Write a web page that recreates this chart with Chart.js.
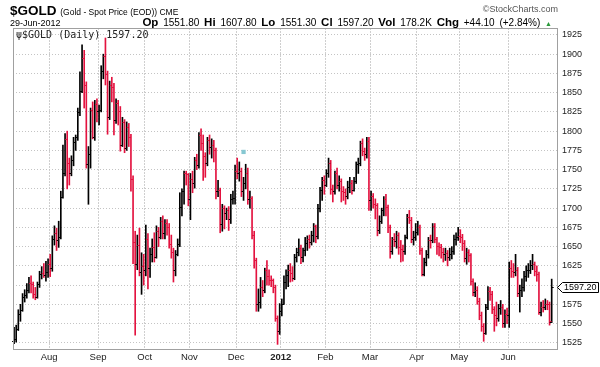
<!DOCTYPE html>
<html>
<head>
<meta charset="utf-8">
<script src="https://cdn.jsdelivr.net/npm/chart.js@4.4.0/dist/chart.umd.min.js"></script>
<style>
  body { margin: 0; background: #fff; width: 600px; height: 367px; overflow: hidden; position: relative; font-family: "Liberation Sans", Arial, sans-serif; }
  #wrap { position: absolute; left: 0; top: 0; width: 600px; height: 367px; }
  .t { position: absolute; white-space: nowrap; color: #000; line-height: 1; }
  .b { font-weight: bold; font-size: 11.5px; }
</style>
</head>
<body>
<div id="wrap"><canvas id="gold" width="600" height="367"></canvas></div>

<div class="t" style="left:10px;top:4px;font-size:13.5px;font-weight:bold">$GOLD <span style="font-weight:normal;font-size:8.5px">(Gold - Spot Price (EOD)) CME</span></div>
<div class="t" style="left:10px;top:19px;font-size:9px">29-Jun-2012</div>
<div class="t" style="right:48px;top:17px;font-size:10px;word-spacing:2px">
  <span class="b">Op</span> 1551.80 <span class="b">Hi</span> 1607.80 <span class="b">Lo</span> 1551.30
  <span class="b">Cl</span> 1597.20 <span class="b">Vol</span> 178.2K <span class="b">Chg</span> +44.10 (+2.84%)
  <span style="color:#2a9a3a;font-size:7px">&#9650;</span>
</div>
<div class="t" style="right:42px;top:5px;font-size:9px;color:#555">&copy;StockCharts.com</div>
<div class="t" style="left:16px;top:30px;font-size:10px;font-family:'DejaVu Sans Mono',monospace;color:#222">&#968;$GOLD (Daily) 1597.20</div>

<script>
// Gold spot, daily OHLC, 7-Jul-2011 .. 29-Jun-2012 (one line per month)
const opens = [
  1527,1530,1543,1562,1568,1585,1587,1594,1603,1601,1588,1585,1601,1614,1616,1613,1617,
  1628,1622,1660,1668,1658,1663,1715,1745,1790,1758,1746,1762,1786,1792,1825,1852,1895,1860,1757,1770,1828,1792,1835,
  1826,1828,1878,1897,1874,1818,1860,1857,1815,1836,1826,1782,1812,1778,1806,1792,1738,1656,1628,1652,1617,1625,
  1620,1660,1622,1640,1650,1636,1670,1663,1683,1668,1681,1676,1654,1643,1620,1641,1654,1702,1722,1745,1744,
  1712,1738,1732,1763,1756,1795,1785,1768,1758,1788,1780,1782,1776,1722,1724,1679,1700,1694,1697,1686,1712,1713,
  1748,1745,1748,1722,1732,1745,1712,1713,1665,1632,1575,1578,1598,1594,1619,1612,1607,1606,1598,1557,1540,
  1566,1576,1604,1613,1620,1616,1609,1636,1643,1648,1637,1645,1655,1660,1656,1665,1677,1664,1700,1723,1737,
  1730,1745,1758,1725,1722,1745,1730,1735,1722,1721,1716,1727,1732,1724,1735,1757,1759,1785,1774,1770,1787,
  1710,1716,1706,1704,1672,1683,1698,1712,1702,1676,1644,1660,1657,1665,1650,1647,1644,1662,1688,1685,1660,1662,
  1669,1676,1645,1615,1630,1640,1659,1658,1677,1660,1651,1650,1643,1640,1642,1637,1641,1644,1660,1663,
  1664,1663,1655,1635,1643,1639,1605,1591,1594,1579,1561,1547,1538,1572,1592,1589,1569,1561,1557,1570,1572,1551,1562,
  1561,1622,1618,1617,1620,1590,1594,1597,1612,1619,1620,1626,1627,1618,1615,1565,1572,1571,1576,1575,1551.8
];
const highs = [
  1545,1548,1568,1575,1589,1594,1602,1610,1612,1604,1597,1604,1618,1624,1628,1631,1634,
  1640,1664,1677,1674,1683,1722,1782,1797,1800,1765,1768,1792,1795,1830,1877,1912,1905,1864,1780,1830,1838,1840,1842,
  1834,1885,1900,1921,1878,1865,1870,1862,1842,1840,1832,1818,1815,1812,1810,1796,1742,1670,1665,1674,1642,1640,
  1678,1667,1648,1660,1668,1677,1675,1688,1690,1685,1685,1680,1665,1648,1645,1660,1720,1725,1748,1748,1745,
  1745,1748,1766,1770,1798,1803,1795,1772,1792,1795,1790,1788,1778,1736,1726,1705,1703,1700,1702,1718,1722,1756,
  1765,1760,1752,1740,1757,1752,1722,1715,1670,1635,1595,1610,1606,1622,1632,1620,1612,1608,1600,1560,1576,
  1582,1612,1620,1626,1628,1624,1640,1648,1660,1652,1648,1662,1664,1665,1670,1680,1678,1705,1727,1740,1742,
  1750,1765,1762,1730,1748,1752,1742,1738,1728,1725,1735,1740,1736,1740,1760,1765,1787,1790,1778,1792,1792,
  1722,1719,1712,1706,1690,1700,1715,1718,1704,1678,1662,1667,1670,1668,1658,1652,1665,1692,1697,1688,1670,1680,
  1683,1678,1648,1635,1645,1662,1665,1680,1680,1662,1655,1653,1648,1648,1645,1648,1650,1665,1668,1675,
  1672,1666,1658,1648,1646,1641,1608,1603,1598,1583,1565,1550,1575,1598,1597,1592,1572,1578,1575,1580,1575,1568,1570,
  1630,1632,1628,1640,1623,1600,1608,1618,1625,1628,1632,1640,1630,1625,1617,1578,1580,1582,1580,1578,1607.8
];
const lows = [
  1524,1526,1541,1553,1566,1578,1583,1590,1590,1583,1581,1583,1597,1608,1610,1605,1610,
  1611,1618,1652,1645,1649,1660,1713,1742,1725,1730,1742,1755,1775,1788,1820,1850,1830,1752,1705,1752,1790,1788,1812,
  1808,1825,1868,1860,1796,1815,1838,1795,1810,1808,1774,1780,1772,1775,1780,1722,1628,1535,1620,1612,1588,1600,
  1612,1595,1610,1630,1630,1635,1650,1660,1660,1660,1665,1648,1635,1604,1612,1638,1650,1690,1705,1730,1703,
  1685,1720,1726,1750,1752,1775,1736,1740,1755,1770,1765,1760,1712,1715,1668,1670,1673,1685,1671,1680,1705,1705,
  1738,1735,1715,1710,1725,1705,1700,1660,1622,1566,1566,1570,1585,1590,1600,1600,1598,1590,1553,1523,1536,
  1560,1575,1595,1598,1604,1605,1607,1630,1638,1628,1630,1638,1645,1648,1652,1656,1655,1660,1695,1710,1718,
  1728,1740,1718,1708,1718,1725,1722,1708,1710,1705,1712,1720,1718,1722,1732,1745,1755,1768,1762,1765,1697,
  1697,1700,1686,1664,1667,1680,1690,1690,1668,1635,1640,1650,1648,1640,1630,1631,1640,1660,1680,1655,1652,1658,
  1665,1640,1612,1612,1625,1635,1648,1655,1655,1640,1638,1635,1630,1632,1625,1632,1634,1640,1652,1658,
  1655,1645,1630,1627,1630,1600,1586,1585,1575,1555,1540,1527,1536,1568,1580,1563,1540,1547,1553,1562,1545,1545,1550,
  1545,1610,1610,1612,1585,1565,1585,1592,1605,1610,1615,1620,1612,1605,1562,1560,1565,1568,1568,1548,1551.3
];
const closes = [
  1530,1543,1562,1568,1585,1587,1594,1603,1601,1588,1585,1601,1614,1616,1613,1617,1628,
  1622,1660,1668,1658,1663,1715,1745,1790,1758,1746,1762,1786,1792,1825,1852,1895,1860,1757,1770,1828,1792,1835,1826,
  1828,1878,1897,1874,1818,1860,1857,1815,1836,1826,1782,1812,1778,1806,1792,1738,1656,1628,1652,1617,1625,1620,
  1660,1622,1640,1650,1636,1670,1663,1683,1668,1681,1676,1654,1643,1620,1641,1654,1702,1722,1745,1744,1712,
  1738,1732,1763,1756,1795,1785,1768,1758,1788,1780,1782,1776,1722,1724,1679,1700,1694,1697,1686,1712,1713,1748,
  1745,1748,1722,1732,1745,1712,1713,1665,1632,1575,1578,1598,1594,1619,1612,1607,1606,1598,1557,1540,1566,
  1576,1604,1613,1620,1616,1609,1636,1643,1648,1637,1645,1655,1660,1656,1665,1677,1664,1700,1723,1737,1730,
  1745,1758,1725,1722,1745,1730,1735,1722,1721,1716,1727,1732,1724,1735,1757,1759,1785,1774,1770,1787,1710,
  1716,1706,1704,1672,1683,1698,1712,1702,1676,1644,1660,1657,1665,1650,1647,1644,1662,1688,1685,1660,1662,1669,
  1676,1645,1615,1630,1640,1659,1658,1677,1660,1651,1650,1643,1640,1642,1637,1641,1644,1660,1663,1664,
  1663,1655,1635,1643,1639,1605,1591,1594,1579,1561,1547,1538,1572,1592,1589,1569,1561,1557,1570,1572,1551,1562,1561,
  1622,1618,1617,1620,1590,1594,1597,1612,1619,1620,1626,1627,1618,1615,1565,1572,1571,1576,1575,1553,1597.2
];

// first bar of each month, and its label
const monthStarts = [17, 40, 62, 83, 105, 126, 147, 168, 190, 210, 233];
const monthLabels = ['Aug', 'Sep', 'Oct', 'Nov', 'Dec', '2012', 'Feb', 'Mar', 'Apr', 'May', 'Jun'];
const priceTicks = [1525, 1550, 1575, 1600, 1625, 1650, 1675, 1700, 1725, 1750, 1775, 1800, 1825, 1850, 1875, 1900, 1925];

// small event marker shown above the bars in early December
const markerAt = [{ x: 108, y: 1773 }];

const upColor = '#000000';
const downColor = '#e3123f';

const barColors = closes.map((c, i) => c >= (i ? closes[i - 1] : opens[i]) ? upColor : downColor);
const ranges = closes.map((c, i) => ({ x: i, y: [lows[i], highs[i]] }));

// open tick on the left, close tick on the right
const ohlcTicks = {
    id: 'ohlcTicks',
    afterDatasetsDraw(chart) {
        const { ctx, scales: { x, y } } = chart;
        ctx.save();
        closes.forEach((c, i) => {
            const px = x.getPixelForValue(i);
            ctx.fillStyle = barColors[i];
            ctx.fillRect(px - 2, Math.round(y.getPixelForValue(opens[i])), 2, 1);
            ctx.fillRect(px, Math.round(y.getPixelForValue(c)), 2, 1);
        });
        ctx.restore();
    }
};

// plot frame + last price tag on the right axis
const frameAndTag = {
    id: 'frameAndTag',
    afterDraw(chart) {
        const { ctx, chartArea: a, scales: { y } } = chart;
        ctx.save();
        ctx.strokeStyle = '#a0a0a0';
        ctx.lineWidth = 1;
        ctx.strokeRect(a.left + 0.5, a.top + 0.5, a.right - a.left, a.bottom - a.top);

        const last = closes[closes.length - 1];
        const yc = Math.round(y.getPixelForValue(last)) + 0.5;
        ctx.beginPath();
        ctx.moveTo(a.right + 0.5, yc);
        ctx.lineTo(a.right + 5.5, yc - 5);
        ctx.lineTo(598.5, yc - 5);
        ctx.lineTo(598.5, yc + 5);
        ctx.lineTo(a.right + 5.5, yc + 5);
        ctx.closePath();
        ctx.fillStyle = '#fff';
        ctx.fill();
        ctx.strokeStyle = '#000';
        ctx.stroke();
        ctx.fillStyle = '#000';
        ctx.font = '9px "Liberation Sans", Arial, sans-serif';
        ctx.textBaseline = 'middle';
        ctx.fillText(last.toFixed(2), a.right + 7, yc + 0.5);
        ctx.restore();
    }
};

const ctx = document.getElementById('gold').getContext('2d');
new Chart(ctx, {
    type: 'bar',
    data: {
        datasets: [{
            data: ranges,
            backgroundColor: barColors,
            barThickness: 1,
            borderWidth: 0,
            grouped: false
        }, {
            type: 'scatter',
            data: markerAt,
            pointStyle: 'rect',
            pointRadius: 3,
            backgroundColor: '#86c8d2',
            borderWidth: 0
        }]
    },
    options: {
        responsive: false,
        animation: false,
        layout: { padding: { top: 28, left: 13, right: 0, bottom: 0 } },
        plugins: { legend: { display: false }, tooltip: { enabled: false } },
        scales: {
            x: {
                type: 'linear',
                min: -0.5,
                max: 255.5,
                offset: false,
                afterBuildTicks: axis => { axis.ticks = monthStarts.map(v => ({ value: v - 0.5 })); },
                afterFit: axis => { axis.height = 18; },
                ticks: {
                    autoSkip: false,
                    maxRotation: 0,
                    padding: 3,
                    color: '#222',
                    font: ctx => ({ family: '"Liberation Sans", Arial, sans-serif', size: 9.5, weight: ctx.index === 5 ? 'bold' : 'normal' }),
                    callback: (v, i) => monthLabels[i]
                },
                grid: { color: '#cfcfcf', drawTicks: false, offset: false },
                border: { display: false, dash: [2, 1] }
            },
            y: {
                position: 'right',
                min: 1517,
                max: 1934,
                afterBuildTicks: axis => { axis.ticks = priceTicks.map(v => ({ value: v })); },
                afterFit: axis => { axis.width = 43; },
                ticks: {
                    padding: 5,
                    color: '#222',
                    font: { family: '"Liberation Sans", Arial, sans-serif', size: 9 },
                    callback: v => String(v)
                },
                grid: { color: '#c4c4c4', drawTicks: false },
                border: { display: false, dash: [1, 2] }
            }
        }
    },
    plugins: [ohlcTicks, frameAndTag]
});
</script>
</body>
</html>
